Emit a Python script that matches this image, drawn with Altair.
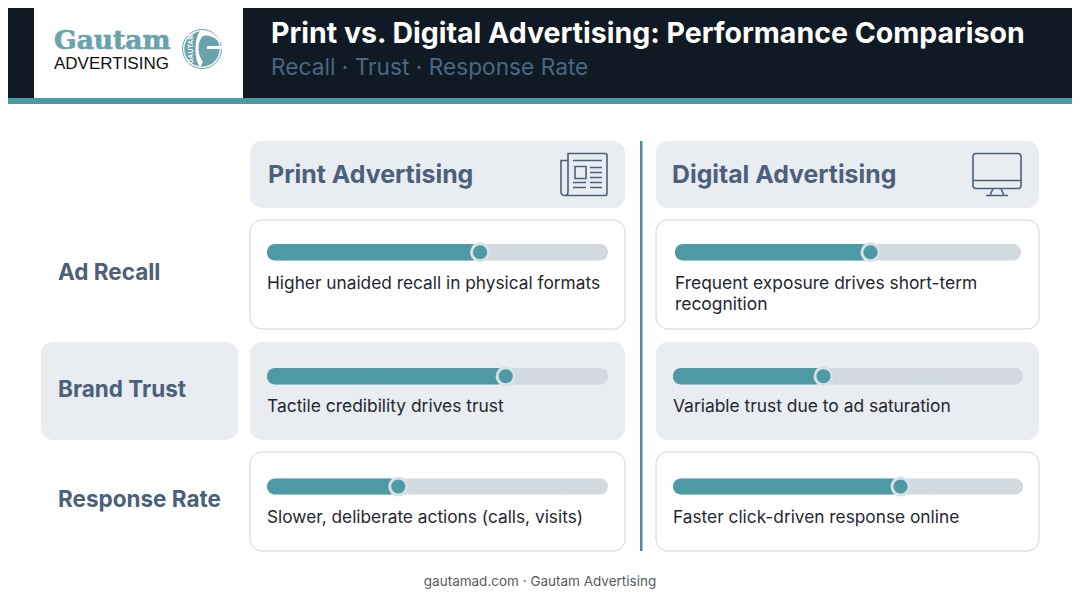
import altair as alt
import pandas as pd

# dados do grafico
metricas = ["Ad Recall", "Brand Trust", "Response Rate"]
canais = ["Print Advertising", "Digital Advertising"]
valores_print = [62.5, 70, 38.5]
valores_digital = [56.5, 43, 65]
textos_print = [
    "Higher unaided recall in physical formats",
    "Tactile credibility drives trust",
    "Slower, deliberate actions (calls, visits)",
]
textos_digital = [
    "Frequent exposure drives short-term\nrecognition",
    "Variable trust due to ad saturation",
    "Faster click-driven response online",
]
titulo = "Print vs. Digital Advertising: Performance Comparison"
subtitulo = "Recall · Trust · Response Rate"
rodape = "gautamad.com · Gautam Advertising"

TEAL = "#4d9aa5"
TRILHA = "#d2d9df"
CARD = "#e9ecf0"
AZUL = "#4c5f7b"
TINTA = "#1f2731"
ESCURO = "#0f1a24"
LOGO = "#6ba3ad"

# a pagina tem margem de 8px, as posicoes abaixo ja descontam isso
M = 8

ICONE_JORNAL = (
    "M-16 17 V-21 H21 Q23 -21 23 -19 V19 Q23 21 21 21 H-19 Q-16 21 -16 17 "
    "M-16 -14 H-23 V17 Q-23 21 -19 21 "
    "M-11 -14 H18 M-9 -8 H2 V4 H-9 Z M6 -7 H18 M6 -2 H18 M6 3 H18 "
    "M-11 8 H2 M6 8 H18 M-11 13 H2 M6 13 H18"
)
ICONE_MONITOR = (
    "M-21 -21 H21 Q24 -21 24 -18 V11 Q24 14 21 14 H-21 Q-24 14 -24 11 V-18 Q-24 -21 -21 -21 Z "
    "M-24 6 H24 M-4 14 L-7 21 M4 14 L7 21 M-11 21 H11"
)
SIMBOLO_G = (
    "M-4 -18 C5 -19 14 -14 18 -5 C12 -11 5 -15 -1 -13 C-7 -8 -7 6 -1 13 "
    "C-3 16 -3 18 -4 18 C-10 10 -10 -10 -4 -18 Z M3 -3 H18 V0 H3 Z"
)


def caixa(x0, x1, y0, y1, cor, raio=0, borda=None):
    opcoes = {"fill": cor, "cornerRadius": raio}
    if borda:
        opcoes["stroke"] = borda
        opcoes["strokeWidth"] = 1
    return alt.Chart(pd.DataFrame({"a": [0]})).mark_rect(**opcoes).encode(
        x=alt.value(x0 - M), x2=alt.value(x1 - M),
        y=alt.value(y0 - M), y2=alt.value(y1 - M),
    )


def texto(conteudo, x, y, tamanho, cor, peso=400, fonte="Inter", alinhar="left", angulo=0, grosso=0):
    return alt.Chart(pd.DataFrame({"t": [conteudo]})).mark_text(
        font=fonte, fontSize=tamanho, fontWeight=peso, color=cor,
        align=alinhar, baseline="middle", angle=angulo, lineBreak="\n", lineHeight=21,
        stroke=cor, strokeWidth=grosso,
    ).encode(x=alt.value(x - M), y=alt.value(y - M), text="t:N")


def icone(caminho, x, y):
    return alt.Chart(pd.DataFrame({"a": [0]})).mark_point(
        shape=caminho, filled=False, stroke=AZUL, strokeWidth=1.6, opacity=1,
    ).encode(x=alt.value(x - M), y=alt.value(y - M), size=alt.value(4))


def simbolo(caminho, x, y, cor):
    return alt.Chart(pd.DataFrame({"a": [0]})).mark_point(
        shape=caminho, filled=True, fill=cor, opacity=1,
    ).encode(x=alt.value(x - M), y=alt.value(y - M), size=alt.value(4))


def disco(x, y, area, cor, borda=None):
    opcoes = {"color": cor, "opacity": 1}
    if borda:
        opcoes = {"fill": cor, "stroke": borda, "strokeWidth": 1, "opacity": 1}
    return alt.Chart(pd.DataFrame({"a": [0]})).mark_circle(**opcoes).encode(
        x=alt.value(x - M), y=alt.value(y - M), size=alt.value(area),
    )


def progresso(valor, x0, x1, y0, y1):
    df = pd.DataFrame({"valor": [valor], "inicio": [0], "fim": [100]})
    eixo = alt.X("valor:Q", axis=None, scale=alt.Scale(domain=[0, 100], range=[x0 - M, x1 - M]))
    meio = (y0 + y1) / 2 - M
    base = alt.Chart(df)
    trilha = base.mark_rect(fill=TRILHA, cornerRadius=8).encode(
        x=alt.X("inicio:Q", axis=None, scale=alt.Scale(domain=[0, 100], range=[x0 - M, x1 - M])),
        x2="fim:Q", y=alt.value(y0 - M), y2=alt.value(y1 - M),
    )
    barra = base.mark_rect(fill=TEAL, cornerRadius=8).encode(
        x=eixo, x2="inicio:Q", y=alt.value(y0 - M), y2=alt.value(y1 - M),
    )
    halo = base.mark_circle(color="#d9e1e5", opacity=1).encode(x=eixo, y=alt.value(meio), size=alt.value(400))
    bola = base.mark_circle(color=TEAL, opacity=1).encode(x=eixo, y=alt.value(meio), size=alt.value(200))
    return [trilha, barra, halo, bola]


camadas = [
    # cabecalho
    caixa(0, 1080, 0, 98, ESCURO),
    caixa(0, 1080, 98, 104, TEAL),
    caixa(34, 243, 0, 98, "#ffffff"),
    texto("Gautam", 54, 41, 26.5, LOGO, 700, "DejaVu Serif", grosso=0.7),
    texto("ADVERTISING", 54, 64, 17, "#111111", 400, "Liberation Sans"),
    disco(202, 49, 1520, "#ffffff", LOGO),
    disco(202, 49, 1250, LOGO),
    simbolo(SIMBOLO_G, 204, 49, "#ffffff"),
    texto("GAUTAM", 191, 49, 7, "#ffffff", 700, "Liberation Sans", alinhar="center", angulo=270),
    texto(titulo, 271, 34, 28.5, "#ffffff", 700),
    texto(subtitulo, 271, 68, 22.7, "#4a6783"),
    # divisor e cartoes de titulo
    caixa(640, 642.5, 141, 551, "#4f8f9c"),
    caixa(250, 625, 141, 208, CARD, 12),
    caixa(656, 1039, 141, 208, CARD, 12),
    texto(canais[0], 268, 176, 24.9, AZUL, 700),
    texto(canais[1], 672, 176, 24.8, AZUL, 700),
    icone(ICONE_JORNAL, 584, 174.5),
    icone(ICONE_MONITOR, 997, 174.5),
    # cartoes das linhas
    caixa(250, 625, 220, 329, "#ffffff", 12, "#ced3da"),
    caixa(656, 1039, 220, 329, "#ffffff", 12, "#ced3da"),
    caixa(41, 238, 342, 440, CARD, 12),
    caixa(250, 625, 342, 440, CARD, 12),
    caixa(656, 1039, 342, 440, CARD, 12),
    caixa(250, 625, 452, 551, "#ffffff", 12, "#ced3da"),
    caixa(656, 1039, 452, 551, "#ffffff", 12, "#ced3da"),
    texto(metricas[0], 58, 273, 22.5, AZUL, 700),
    texto(metricas[1], 58, 390, 22.5, AZUL, 700),
    texto(metricas[2], 58, 500, 22.5, AZUL, 700),
    texto(textos_print[0], 267, 284, 17.3, TINTA),
    texto(textos_print[1], 267, 407, 17.4, TINTA),
    texto(textos_print[2], 267, 518, 17.3, TINTA),
    texto(textos_digital[0], 675, 284, 17.4, TINTA),
    texto(textos_digital[1], 673, 407, 17.4, TINTA),
    texto(textos_digital[2], 673, 518, 17.3, TINTA),
    texto(rodape, 540, 582, 13.5, "#555c66", alinhar="center"),
]

camadas += progresso(valores_print[0], 267, 608, 244, 260.5)
camadas += progresso(valores_print[1], 267, 608, 368, 384.5)
camadas += progresso(valores_print[2], 267, 608, 478.5, 494.5)
camadas += progresso(valores_digital[0], 675, 1021, 244, 260.5)
camadas += progresso(valores_digital[1], 673, 1023, 368, 384.5)
camadas += progresso(valores_digital[2], 673, 1023, 478.5, 494.5)

chart = alt.layer(*camadas).resolve_scale(x="independent").properties(
    width=1064,
    height=584,
    padding=0,
    autosize=alt.AutoSizeParams(type="none"),
    background="#ffffff",
).configure_view(stroke=None)

chart.save("out.html", embed_options={"renderer": "svg", "actions": False})
